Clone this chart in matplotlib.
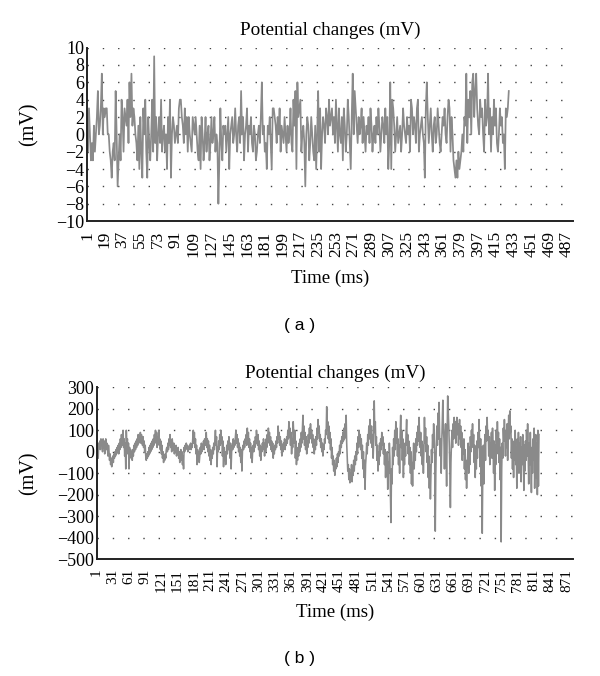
import matplotlib
matplotlib.use("Agg")
import matplotlib.pyplot as plt

# ---------------- data ----------------
title_text = "Potential changes (mV)"
xlabel_text = "Time (ms)"
ylabel_text = "(mV)"

volts_a = [
    2,-2,3,0,-3,-1,-3,1,-2,0,2,5,0,1,3,7,0,3,2,3,
    3,0,0,-2,-3,-5,-2,-1,-3,5,0,-6,-3,0,-3,4,2,-2,3,2,
    1,4,-1,6,2,7,1,3,2,0,-1,-3,1,-4,2,-2,-5,3,0,4,
    -2,-5,2,-1,-3,0,4,-2,9,-1,2,-3,0,2,-1,4,-2,0,1,-2,
    0,-4,2,-1,4,-5,0,2,1,-1,0,1,-1,3,4,4,2,1,-1,3,
    0,2,-2,2,0,-1,-2,2,1,0,2,0,-2,-3,1,-4,2,0,-3,-1,
    2,-2,0,1,-3,-1,2,-1,0,2,-2,0,-1,-8,-3,3,-1,-3,1,0,
    1,-2,0,2,-4,0,1,2,-1,0,3,0,-2,1,2,-1,5,0,2,-3,
    0,1,3,-2,1,0,2,-1,-2,1,0,-3,-2,0,1,-1,2,6,0,1,
    -2,-1,-4,1,0,2,-1,-4,3,3,2,1,-1,2,0,3,-2,1,0,-1,
    2,0,-2,1,-1,0,3,-1,-2,4,1,5,-4,6,2,3,4,-2,0,1,
    -1,-6,0,2,1,-3,-1,2,0,-2,-3,1,-4,0,5,-2,3,-4,0,2,
    1,-1,3,2,0,4,1,2,3,0,2,-1,4,1,-2,3,0,-1,2,-3,
    3,1,-2,0,4,2,-1,-4,2,7,0,5,3,1,-1,2,0,1,3,-1,
    2,0,-2,1,0,2,-1,3,1,-2,0,1,-1,2,0,3,1,-2,0,2,
    1,-1,3,0,2,-4,-1,6,-4,4,3,1,-2,0,2,-1,0,1,-2,0,
    3,1,0,-1,2,0,1,-2,4,3,0,2,1,-1,3,4,-2,0,1,2,
    0,-1,-5,3,6,2,-1,1,3,0,-2,1,2,-1,0,3,1,-1,-2,0,
    2,1,3,0,-1,2,4,3,-2,2,0,-3,-4,-5,-3,-5,-2,-4,-3,-2,
    0,-2,2,1,7,-1,4,2,5,0,6,7,2,5,7,3,1,0,4,2,
    3,0,-2,4,1,2,7,0,3,-2,2,0,4,1,3,-1,-2,0,3,1,
    2,-1,0,-4,3,2,3,5,
]

volts_b = [
    -60,-20,10,-30,40,20,50,10,60,30,
    40,0,60,20,50,-10,30,60,10,40,20,-20,30,0,-40,-10,-60,-30,-70,-40,
    -20,-50,-10,-30,0,-20,10,-10,20,0,30,-10,40,10,60,20,80,30,50,100,20,60,-20,40,-80,
    100,30,60,-10,40,-80,20,-20,10,-30,0,-40,10,-20,30,0,40,10,50,20,60,30,80,40,70,
    50,90,40,80,60,30,70,20,50,0,30,-20,-40,-10,-30,0,-20,20,-10,30,0,40,10,50,20,
    60,30,80,40,100,50,90,20,70,40,100,30,60,10,50,-10,30,-30,0,-50,-20,-40,-10,-30,10,
    20,0,40,10,60,30,80,20,50,0,60,30,10,40,-10,20,0,30,-20,10,-10,20,-30,0,-50,
    -20,10,-40,0,-60,-20,-80,20,0,30,10,40,20,30,0,20,10,30,20,40,10,30,20,60,100,
    40,90,20,60,-10,30,-60,10,-40,0,-50,-20,20,-10,40,0,30,20,50,10,60,30,40,90,20,
    60,0,50,-20,30,-40,10,-60,0,-30,20,-10,40,10,60,100,30,70,-70,20,0,50,10,80,30,
    100,40,70,-20,50,-70,20,-40,0,-60,-20,30,-10,50,10,70,20,-30,40,-80,0,30,10,60,20,
    50,30,70,100,40,80,20,60,0,40,-20,20,-50,10,-90,0,30,10,50,20,60,40,80,30,110,
    50,90,20,60,0,40,-30,20,-50,10,30,0,50,20,70,40,100,60,30,80,10,50,-20,30,-40,
    20,0,40,10,60,30,-20,40,0,60,20,80,40,110,60,90,30,70,10,50,0,40,-30,20,-10,
    30,10,50,20,70,40,120,60,90,30,70,10,50,-20,30,0,40,20,60,10,50,30,70,40,100,
    60,140,70,110,30,90,-10,60,20,140,80,40,100,-30,50,-60,0,-40,20,-20,40,0,60,20,90,
    40,100,170,60,120,30,90,10,70,-10,50,20,80,40,110,60,130,70,100,40,80,20,60,-10,40,
    10,70,30,110,60,150,90,120,50,80,20,60,0,40,-20,30,10,60,40,100,80,210,100,140,60,
    120,40,90,10,60,-30,20,-60,-20,-90,-40,-110,-60,-80,-30,-70,-10,-50,0,-20,30,-10,50,20,70,
    40,90,50,110,60,130,70,170,40,-20,-90,-60,-130,-80,-145,-100,-120,-60,-140,-80,-110,-40,-90,-20,-60,
    0,-40,40,-10,70,20,100,40,80,10,60,-30,30,-80,0,-120,-40,-175,-60,-20,40,-10,80,30,120,
    60,150,90,40,120,20,80,-30,50,237,90,140,30,70,-40,30,-90,0,-60,40,-20,60,10,90,30,
    70,-10,40,-60,10,-120,-30,-80,0,-175,-50,-100,40,-30,-200,-330,-80,-150,20,-60,60,-20,100,10,140,
    40,110,-20,60,-60,30,-100,80,170,20,100,-40,60,-120,10,-60,40,-20,90,150,30,80,-10,50,-60,
    20,-100,0,-150,-50,-160,-30,40,-80,20,-40,60,0,90,30,120,50,160,70,20,90,-20,50,-60,30,
    -100,10,160,40,110,0,70,-50,30,-120,-20,-170,-60,-220,-100,10,-50,80,20,130,60,-30,-370,-100,40,
    120,30,180,60,230,90,-20,60,-100,40,150,240,110,60,-80,50,130,0,-160,80,260,190,120,30,-80,
    -260,-50,40,100,20,130,60,160,90,140,40,110,160,80,130,30,100,150,60,120,20,90,-40,50,-10,
    60,-80,10,-130,-40,-170,-60,-20,40,-100,20,-60,70,0,100,40,130,20,80,-50,30,-120,10,-80,50,
    -30,90,20,150,40,-70,60,-160,20,-380,-80,30,-150,10,80,-40,120,50,160,60,100,-20,70,-60,40,
    0,90,-30,110,20,-100,50,-180,30,-60,100,-10,140,40,90,-50,60,-130,20,-420,
    -80,40,-30,110,50,150,70,-20,100,20,130,-40,80,170,60,190,90,120,-30,60,-80,30,-120,50,-40,
    100,-60,20,-170,60,-20,90,-100,40,-10,70,-140,20,-60,80,10,-180,30,-90,50,-40,100,-20,130,0,
    -150,40,-60,90,-30,-190,20,-100,60,-40,110,-170,0,80,-120,40,-200,100,-160,80,
]

xticks_a = list(range(1, 488, 18))
yticks_a = list(range(-10, 11, 2))
xticks_b = list(range(1, 872, 30))
yticks_b = list(range(-500, 301, 100))
ncat_a = 493
ncat_b = 883
panel_labels = ["( a )", "( b )"]

# ---------------- figure ----------------
serif = "Liberation Serif"
fig = plt.figure(figsize=(6.0, 6.76), dpi=100)

def style_axes(ax, xt, yt, ncat, ylim, xfs, ylab_xy, tpad):
    for s in ["top", "right"]:
        ax.spines[s].set_visible(False)
    for s in ["left", "bottom"]:
        ax.spines[s].set_linewidth(1.4)
        ax.spines[s].set_color("#222222")
    ax.set_xlim(1, ncat)
    ax.set_ylim(*ylim)
    ax.set_xticks(xt)
    ax.set_xticklabels([str(t) for t in xt], rotation=90, fontfamily=serif, fontsize=xfs)
    ax.set_yticks(yt)
    ax.set_yticklabels([str(t).replace("-", "\u2212") for t in yt], fontfamily=serif, fontsize=13)
    ax.tick_params(axis="y", length=0, pad=2)
    ax.tick_params(axis="x", length=0, pad=7)
    ax.yaxis.grid(True, linestyle=(0, (1, 10)), linewidth=1.0, color="#444444")
    ax.set_axisbelow(True)
    ax.set_title(title_text, fontfamily=serif, fontsize=13.8, pad=tpad)
    ax.set_xlabel(xlabel_text, fontfamily=serif, fontsize=13.5, labelpad=9)
    ax.set_ylabel(ylabel_text, fontfamily=serif, fontsize=14.5)
    ax.yaxis.set_label_coords(*ylab_xy)

ax1 = fig.add_axes([0.145, 0.673, 0.81, 0.2565])
ax1.plot(range(1, len(volts_a) + 1), volts_a, color="#8a8a8a", linewidth=1.25)
style_axes(ax1, xticks_a, yticks_a, ncat_a, (-10, 10), 12.5, (-0.099, 0.56), 9)
ax1.yaxis.get_gridlines()[0].set_visible(False)

ax2 = fig.add_axes([0.161, 0.173, 0.794, 0.254])
ax2.plot(range(1, len(volts_b) + 1), volts_b, color="#8a8a8a", linewidth=1.15)
style_axes(ax2, xticks_b, yticks_b, ncat_b, (-500, 300), 11, (-0.121, 0.5), 6.5)
ax2.yaxis.get_gridlines()[0].set_visible(False)

fig.text(0.5, 1 - 325 / 676, panel_labels[0], ha="center", va="center",
         fontfamily="Liberation Sans", fontsize=12.5)
fig.text(0.5, 1 - 658 / 676, panel_labels[1], ha="center", va="center",
         fontfamily="Liberation Sans", fontsize=12.5)

fig.savefig("out.png", dpi=100)
